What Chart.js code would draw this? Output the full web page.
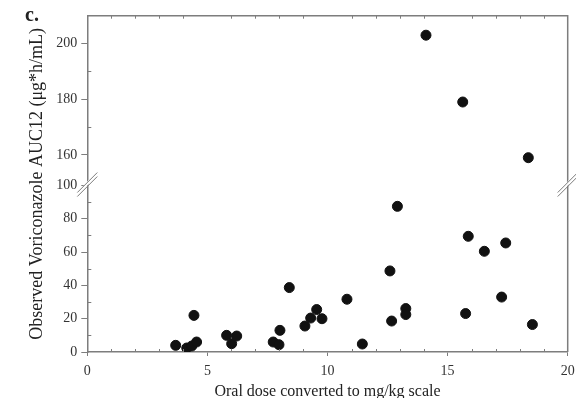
<!DOCTYPE html>
<html><head><meta charset="utf-8">
<script src="https://cdn.jsdelivr.net/npm/chart.js@4.4.1/dist/chart.umd.min.js"></script>
<style>html,body{margin:0;padding:0;background:#fff}canvas{display:block}</style>
</head><body>
<canvas id="c" width="576" height="398"></canvas>
<script>
// ---- data ----
const doseMgKg = [3.68, 4.14, 4.35, 4.55, 4.44, 5.80, 6.01, 6.22, 7.74, 7.98, 8.02, 8.41, 9.06, 9.30, 9.55, 9.77, 10.81, 11.45, 12.60, 12.67, 12.91, 13.26, 13.26, 14.10, 15.63, 15.75, 15.86, 16.53, 17.25, 17.42, 18.36, 18.53];
const aucObserved = [4.0, 2.4, 3.6, 6.0, 22.0, 10.0, 5.0, 9.6, 6.0, 4.4, 13.0, 38.7, 15.6, 20.4, 25.5, 20.0, 31.7, 4.8, 48.7, 18.6, 87.5, 26.1, 22.5, 203, 179, 23.1, 69.5, 60.5, 33.0, 65.5, 159, 16.5];
const xTickValues = [0, 5, 10, 15, 20];
const xMinorTicks = [1, 2, 3, 4, 6, 7, 8, 9, 11, 12, 13, 14, 16, 17, 18, 19];
const yTickValues = [0, 20, 40, 60, 80, 100, 160, 180, 200];
const yMinorTicks = [10, 30, 50, 70, 90, 170, 190];
const xTitle = 'Oral dose converted to mg/kg scale';
const yTitle = 'Observed Voriconazole AUC12 (\u03bcg*h/mL)';
const panelLabel = 'c.';

// ---- broken axis settings ----
const BREAK_LOW = 100;   // lower segment ends here
const BREAK_HIGH = 149;  // upper segment starts here
const LOW_FRAC = 0.495;  // share of plot height for lower segment

const AXIS = '#7d7d7d';
const TEXT = '#333';
const SERIF = "'Liberation Serif', 'DejaVu Serif', serif";

class BrokenScale extends Chart.LinearScale {
  getPixelForValue(value) {
    if (value === null || value === undefined || isNaN(value)) return NaN;
    let f;
    if (value <= BREAK_LOW) f = (value - this.min) / (BREAK_LOW - this.min) * LOW_FRAC;
    else f = LOW_FRAC + (value - BREAK_HIGH) / (this.max - BREAK_HIGH) * (1 - LOW_FRAC);
    return this.getPixelForDecimal(f);
  }
  getValueForPixel(pixel) {
    const f = this.getDecimalForPixel(pixel);
    if (f <= LOW_FRAC) return this.min + f / LOW_FRAC * (BREAK_LOW - this.min);
    return BREAK_HIGH + (f - LOW_FRAC) / (1 - LOW_FRAC) * (this.max - BREAK_HIGH);
  }
}
BrokenScale.id = 'broken';
BrokenScale.defaults = Chart.LinearScale.defaults;
Chart.register(BrokenScale);

const decorPlugin = {
  id: 'decor',
  afterDraw(chart) {
    const { ctx, chartArea: a, scales: { x, y } } = chart;
    ctx.save();
    ctx.strokeStyle = AXIS;
    ctx.lineWidth = 1.5;
    ctx.beginPath();
    ctx.moveTo(a.left, a.top); ctx.lineTo(a.right, a.top); ctx.lineTo(a.right, a.bottom);
    ctx.stroke();
    ctx.lineWidth = 1;
    ctx.beginPath();
    xMinorTicks.forEach(v => {
      const px = Math.round(x.getPixelForValue(v)) + 0.5;
      ctx.moveTo(px, a.bottom); ctx.lineTo(px, a.bottom - 3);
      ctx.moveTo(px, a.top); ctx.lineTo(px, a.top + 3);
    });
    yMinorTicks.forEach(v => {
      const py = Math.round(y.getPixelForValue(v)) + 0.5;
      ctx.moveTo(a.left, py); ctx.lineTo(a.left + 4, py);
    });
    ctx.stroke();
    // axis break marks
    const cy = y.getPixelForValue(BREAK_LOW) - 2;
    [a.left, a.right].forEach(cx => {
      ctx.fillStyle = '#fff';
      ctx.beginPath();
      ctx.moveTo(cx - 9, cy + 12); ctx.lineTo(cx + 9, cy - 8);
      ctx.lineTo(cx + 9, cy - 12); ctx.lineTo(cx - 9, cy + 8);
      ctx.closePath(); ctx.fill();
      ctx.strokeStyle = AXIS; ctx.lineWidth = 1;
      ctx.beginPath();
      ctx.moveTo(cx - 10, cy + 13); ctx.lineTo(cx + 10, cy - 7);
      ctx.moveTo(cx - 10, cy + 9); ctx.lineTo(cx + 10, cy - 11);
      ctx.stroke();
    });
    // panel label
    ctx.fillStyle = '#222';
    ctx.font = 'bold 20px ' + SERIF;
    ctx.textBaseline = 'alphabetic';
    ctx.fillText(panelLabel, 25, 21);
    ctx.restore();
  }
};

new Chart(document.getElementById('c'), {
  type: 'scatter',
  data: {
    datasets: [{
      data: doseMgKg.map((d, i) => ({ x: d, y: aucObserved[i] })),
      backgroundColor: '#111',
      borderColor: '#111',
      pointRadius: 5,
      pointHoverRadius: 5
    }]
  },
  options: {
    responsive: false,
    animation: false,
    layout: { padding: { top: 15.7, right: 8.3, left: 0, bottom: 0 } },
    plugins: { legend: { display: false }, tooltip: { enabled: false } },
    scales: {
      x: {
        type: 'linear', min: 0, max: 20,
        afterBuildTicks: s => { s.ticks = xTickValues.map(v => ({ value: v })); },
        afterFit: s => { s.height = 46; s.paddingLeft = 0; s.paddingRight = 0; },
        border: { display: true, color: AXIS, width: 1.5 },
        grid: { display: true, drawOnChartArea: false, drawTicks: true, tickLength: 4, color: AXIS, tickColor: AXIS },
        ticks: { color: TEXT, font: { family: SERIF, size: 14 }, padding: 7, autoSkip: false, maxRotation: 0 },
        title: { display: true, text: xTitle, color: '#222', font: { family: SERIF, size: 16 }, padding: { top: 0, bottom: -3.5 } }
      },
      y: {
        type: 'broken', min: 0, max: 210,
        afterBuildTicks: s => { s.ticks = yTickValues.map(v => ({ value: v })); },
        afterFit: s => { s.width = 87.3; s.paddingTop = 0; s.paddingBottom = 0; },
        border: { display: true, color: AXIS, width: 1.5 },
        grid: { display: true, drawOnChartArea: false, drawTicks: true, tickLength: 6, color: AXIS, tickColor: AXIS },
        ticks: { color: TEXT, font: { family: SERIF, size: 14 }, padding: 4, autoSkip: false, callback: v => String(v) },
        title: { display: true, text: yTitle, color: '#222', font: { family: SERIF, size: 18 }, padding: { top: 26, bottom: 0 } }
      }
    }
  },
  plugins: [decorPlugin]
});
</script>
</body></html>
